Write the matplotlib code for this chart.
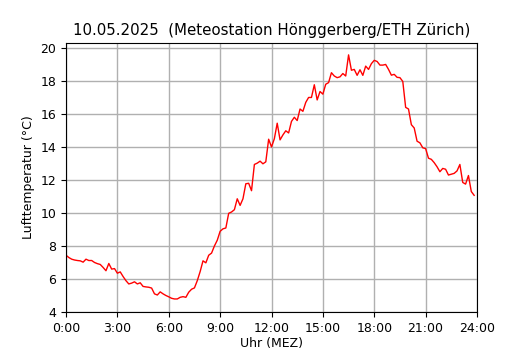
import numpy as np
import matplotlib
matplotlib.use("Agg")
import matplotlib.pyplot as plt

# === Daten: Temperatur alle 10 Minuten, 0:00 bis 23:50 ===
temps = [
    7.44, 7.30, 7.20, 7.15, 7.12, 7.10, 7.02, 7.20, 7.12, 7.12,
    7.00, 6.93, 6.88, 6.70, 6.50, 6.94, 6.60, 6.63, 6.35, 6.43,
    6.15, 5.90, 5.70, 5.75, 5.83, 5.70, 5.77, 5.55, 5.52, 5.50,
    5.45, 5.10, 5.03, 5.22, 5.10, 5.00, 4.92, 4.83, 4.79, 4.79,
    4.89, 4.93, 4.89, 5.20, 5.38, 5.46, 5.90, 6.45, 7.10, 6.98,
    7.44, 7.57, 8.00, 8.35, 8.89, 9.04, 9.09, 9.98, 10.06, 10.20,
    10.86, 10.46, 10.86, 11.77, 11.80, 11.35, 12.94, 13.02, 13.14, 12.98,
    13.10, 14.47, 14.00, 14.50, 15.44, 14.43, 14.73, 14.98, 14.85, 15.55,
    15.80, 15.60, 16.30, 16.16, 16.70, 17.00, 17.00, 17.77, 16.85, 17.36,
    17.20, 17.80, 17.90, 18.50, 18.30, 18.20, 18.25, 18.45, 18.30, 19.58,
    18.65, 18.70, 18.34, 18.68, 18.34, 18.90, 18.70, 19.05, 19.25, 19.18,
    18.96, 18.96, 19.00, 18.70, 18.35, 18.40, 18.22, 18.20, 17.97, 16.40,
    16.30, 15.35, 15.15, 14.35, 14.25, 13.95, 13.90, 13.32, 13.25, 13.05,
    12.80, 12.50, 12.70, 12.65, 12.30, 12.35, 12.40, 12.55, 12.94, 11.85,
    11.75, 12.27, 11.30, 11.07,
]
hours = np.arange(len(temps)) / 6.0

tick_hours = [0, 3, 6, 9, 12, 15, 18, 21, 24]
tick_labels = [f"{h}:00" for h in tick_hours]

# === Plot ===
fig = plt.figure(figsize=(5.3, 3.5), dpi=100)
ax = fig.add_axes([66 / 530, 38 / 350, 411 / 530, 269 / 350])

ax.plot(hours, temps, color="red", linewidth=1)
ax.set_xlim(0, 24)
ax.set_ylim(4, 20.3)
ax.set_xticks(tick_hours)
ax.set_xticklabels(tick_labels)
ax.set_yticks(range(4, 21, 2))
ax.tick_params(labelsize=9)
ax.grid(True, color="#b0b0b0", linewidth=1)
ax.set_axisbelow(True)

ax.set_title("10.05.2025  (Meteostation Hönggerberg/ETH Zürich)", fontsize=10.8)
ax.set_xlabel("Uhr (MEZ)", fontsize=9, labelpad=2)
ax.set_ylabel("Lufttemperatur (°C)", fontsize=9)

fig.savefig("out.png", dpi=100)
plt.close(fig)
